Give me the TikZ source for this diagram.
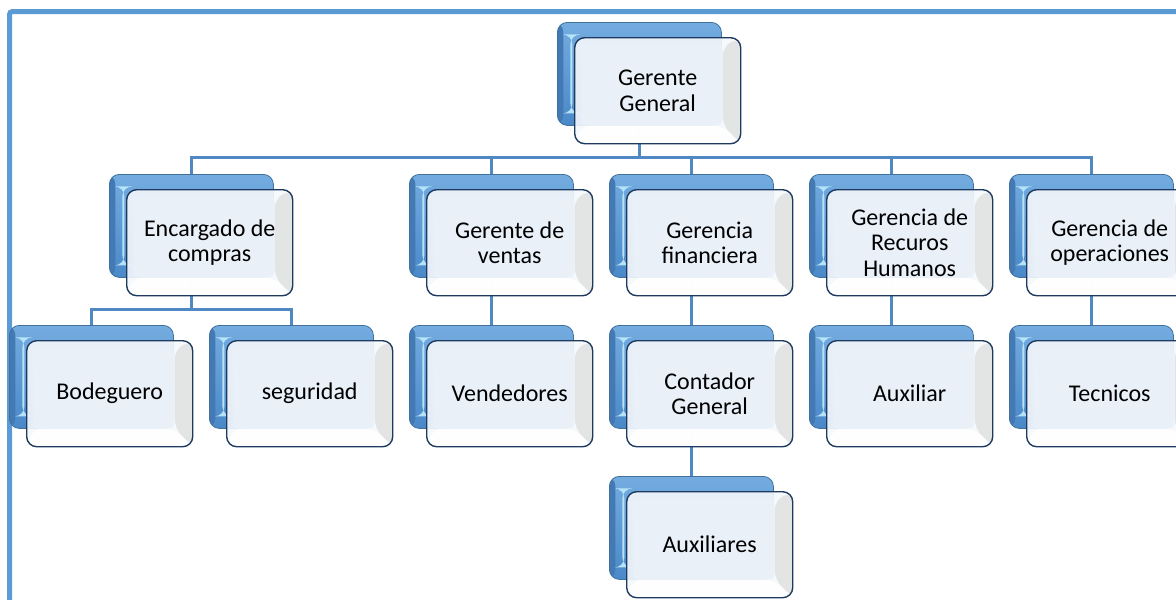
\documentclass[tikz,border=0pt]{standalone}
\usepackage{fontspec}
\setmainfont{Carlito}
\definecolor{framec}{HTML}{5B9BD5}
\definecolor{connc}{HTML}{5088C4}
\definecolor{backtop}{HTML}{74ACE0}
\definecolor{backbot}{HTML}{4A88C8}
\definecolor{backline}{HTML}{41719C}
\definecolor{backhi}{HTML}{B5E3F7}
\definecolor{frontline}{HTML}{1F3A5F}
\definecolor{frontouter}{HTML}{F5F8FC}
\definecolor{frontinner}{HTML}{EAF1F9}
\definecolor{bevelgray}{HTML}{E2E2E2}
\begin{document}
\begin{tikzpicture}[x=1pt,y=-1pt,
  backbox/.style={rounded corners=10pt, draw=backline, line width=0.8pt,
    top color=backtop, bottom color=backbot, minimum width=164pt,
    minimum height=103pt, inner sep=0pt, anchor=north west,
    path picture={
      \fill[backhi] ([xshift=13pt,yshift=-12pt]path picture bounding box.north west)
        rectangle ([xshift=15pt,yshift=12pt]path picture bounding box.south west);
      \fill[backbot!90!black] (path picture bounding box.north west)
        rectangle ([xshift=6pt]path picture bounding box.south west);
    }},
  frontbox/.style={rounded corners=10pt, draw=frontline, line width=1.4pt,
    fill=frontouter, fill opacity=0.9, text opacity=1,
    minimum width=166pt, minimum height=106pt, inner sep=2pt,
    anchor=north west, align=center, font=\fontsize{24}{25.5}\selectfont,
    path picture={
      \fill[bevelgray, fill opacity=0.9] (path picture bounding box.north east)
        -- ([xshift=-18pt,yshift=-8pt]path picture bounding box.north east)
        -- ([xshift=-18pt,yshift=18pt]path picture bounding box.south east)
        -- (path picture bounding box.south east) -- cycle;
      \fill[white, fill opacity=0.9] (path picture bounding box.south west)
        -- ([xshift=6pt,yshift=18pt]path picture bounding box.south west)
        -- ([xshift=-18pt,yshift=18pt]path picture bounding box.south east)
        -- (path picture bounding box.south east) -- cycle;
      \fill[frontinner, fill opacity=0.9, rounded corners=6pt]
        ([xshift=6pt,yshift=-6pt]path picture bounding box.north west)
        rectangle ([xshift=-18pt,yshift=18pt]path picture bounding box.south east);
    }},
  conn/.style={draw=connc, line width=3pt}
]
\useasboundingbox (0,0) rectangle (1176,600);
% frame
\draw[framec, line width=5pt, rounded corners=3pt] (9.5,600) -- (9.5,11.5) -- (1176,11.5);

% back boxes
\node[backbox] (gg-b) at (557,22) {};
\node[backbox] (ec-b) at (109,174) {};
\node[backbox] (gv-b) at (409,174) {};
\node[backbox] (gf-b) at (609,174) {};
\node[backbox] (rh-b) at (809,174) {};
\node[backbox] (op-b) at (1009,174) {};
\node[backbox] (bo-b) at (9,325) {};
\node[backbox] (se-b) at (209,325) {};
\node[backbox] (ve-b) at (409,325) {};
\node[backbox] (cg-b) at (609,325) {};
\node[backbox] (au-b) at (809,325) {};
\node[backbox] (te-b) at (1009,325) {};
\node[backbox] (ax-b) at (609,476) {};

% connectors
\coordinate (bar) at (0,157);
\coordinate (bar2) at (0,309);
\draw[conn] (gg-b.south) -- (gg-b.south |- bar);
\draw[conn] (ec-b.north) -- (ec-b.north |- bar) -- (op-b.north |- bar) -- (op-b.north);
\draw[conn] (gv-b.north) -- (gv-b.north |- bar);
\draw[conn] (gf-b.north) -- (gf-b.north |- bar);
\draw[conn] (rh-b.north) -- (rh-b.north |- bar);
\draw[conn] (ec-b.south) -- (ec-b.south |- bar2);
\draw[conn] (bo-b.north) -- (bo-b.north |- bar2) -- (se-b.north |- bar2) -- (se-b.north);
\draw[conn] (gv-b.south) -- (ve-b.north);
\draw[conn] (gf-b.south) -- (cg-b.north);
\draw[conn] (cg-b.south) -- (ax-b.north);
\draw[conn] (rh-b.south) -- (au-b.north);
\draw[conn] (op-b.south) -- (te-b.north);

% front boxes
\node[frontbox] (gg) at (574,37) {Gerente\\General};
\node[frontbox] (ec) at (126,189) {Encargado de\\compras};
\node[frontbox] (gv) at (426,189) {Gerente de\\ventas};
\node[frontbox] (gf) at (626,189) {Gerencia\\financiera};
\node[frontbox] (rh) at (826,189) {Gerencia de\\Recuros\\Humanos};
\node[frontbox] (op) at (1026,189) {Gerencia de\\operaciones};
\node[frontbox] (bo) at (26,340) {Bodeguero};
\node[frontbox] (se) at (226,340) {seguridad};
\node[frontbox] (ve) at (426,340) {Vendedores};
\node[frontbox] (cg) at (626,340) {Contador\\General};
\node[frontbox] (au) at (826,340) {Auxiliar};
\node[frontbox] (te) at (1026,340) {Tecnicos};
\node[frontbox] (ax) at (626,491) {Auxiliares};
\end{tikzpicture}
\end{document}
